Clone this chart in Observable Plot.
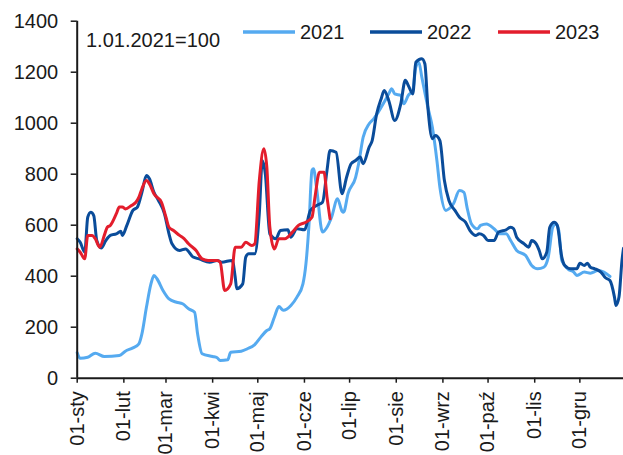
<!DOCTYPE html>
<html>
<head>
<meta charset="utf-8">
<script src="https://cdn.jsdelivr.net/npm/d3@7"></script>
<script src="https://cdn.jsdelivr.net/npm/@observablehq/plot@0.6"></script>
<style>
  html, body { margin: 0; padding: 0; background: #fff; }
  #chart svg { display: block; }
</style>
</head>
<body>
<div id="chart"></div>
<script>
// Month starts (day of year) and their Polish labels
const monthStarts = [0, 31, 59, 90, 120, 151, 181, 212, 243, 273, 304, 334];
const monthLabels = ["01-sty", "01-lut", "01-mar", "01-kwi", "01-maj", "01-cze",
                     "01-lip", "01-sie", "01-wrz", "01-paź", "01-lis", "01-gru"];
const yTicks = [0, 200, 400, 600, 800, 1000, 1200, 1400];

const seriesNames = ["2021", "2022", "2023"];
const seriesColors = ["#55aaf0", "#0a4c9a", "#e31d2c"];
const indexNote = "1.01.2021=100";

// 2021 (index, 1.01.2021 = 100)
const days2021 = [0, 2, 7, 12, 18, 28, 32, 37, 41, 43, 46, 49, 51, 53, 57, 61, 66, 70, 74, 78,
  80, 83, 90, 93, 95, 100, 102, 109, 113, 118, 122, 126, 128, 131, 134, 137, 142, 146, 150, 152,
  154, 156, 157, 159, 163, 166, 169, 173, 176, 177, 180, 185, 187, 190, 194, 197, 200, 204, 207, 209,
  211, 215, 217, 220, 223, 225, 227, 229, 233, 236, 239, 241, 245, 247, 250, 254, 257, 259, 262, 266,
  268, 272, 277, 281, 285, 288, 292, 298, 302, 306, 310, 313, 316, 318, 320, 322, 326, 330, 332, 337,
  341, 346, 350, 354];
const vals2021 = [100, 78, 82, 98, 85, 89, 106, 119, 135, 174, 278, 370, 403, 390, 344, 311, 298, 292, 272, 259,
  174, 96, 85, 80, 69, 72, 102, 106, 115, 132, 161, 187, 194, 239, 281, 266, 285, 318, 370, 449,
  600, 815, 821, 749, 573, 592, 631, 704, 655, 651, 725, 788, 841, 945, 998, 1017, 1043, 1083, 1115, 1135,
  1115, 1109, 1076, 1109, 1128, 1220, 1239, 1180, 1063, 984, 854, 749, 658, 664, 684, 736, 729, 671, 605, 586,
  599, 605, 586, 566, 566, 540, 501, 481, 442, 429, 435, 475, 592, 605, 579, 462, 429, 416, 403, 416,
  412, 422, 416, 399];

// 2022
const days2022 = [0, 2, 5, 7, 9, 11, 13, 16, 19, 22, 26, 29, 30, 33, 37, 40, 43, 46, 48, 51,
  54, 58, 61, 63, 68, 72, 77, 81, 88, 93, 96, 103, 105, 106, 110, 112, 114, 118, 121, 123,
  125, 128, 132, 135, 140, 142, 146, 151, 155, 159, 163, 166, 168, 172, 176, 179, 182, 185, 188, 190,
  194, 196, 199, 202, 204, 207, 211, 215, 218, 220, 223, 225, 229, 231, 233, 236, 238, 241, 244, 247,
  251, 254, 258, 261, 265, 267, 270, 273, 277, 280, 285, 288, 290, 292, 297, 300, 302, 305, 307, 309,
  312, 314, 317, 319, 322, 324, 328, 332, 334, 337, 339, 341, 344, 348, 351, 354, 357, 358, 360, 362,
  363];
const vals2022 = [547, 533, 494, 631, 651, 638, 540, 511, 540, 560, 566, 576, 560, 599, 658, 671, 729, 795, 782, 729,
  697, 645, 566, 527, 501, 507, 475, 468, 455, 462, 455, 462, 396, 351, 370, 475, 488, 488, 645, 854,
  801, 566, 547, 579, 582, 553, 586, 582, 658, 677, 690, 815, 893, 886, 723, 788, 841, 854, 867, 841,
  906, 932, 1037, 1096, 1128, 1089, 1011, 1076, 1168, 1148, 1115, 1239, 1253, 1233, 1063, 939, 952, 932, 775, 697,
  658, 631, 612, 579, 560, 566, 560, 540, 540, 573, 582, 592, 586, 553, 527, 514, 540, 527, 501, 468,
  494, 592, 612, 599, 475, 442, 429, 429, 451, 442, 451, 435, 429, 416, 394, 383, 318, 285, 318, 462,
  510];

// 2023
const days2023 = [0, 2, 5, 7, 10, 12, 15, 18, 20, 22, 26, 28, 30, 32, 36, 39, 41, 43, 46, 48,
  51, 56, 59, 61, 64, 68, 71, 74, 79, 83, 87, 90, 93, 95, 98, 102, 105, 109, 112, 116,
  118, 121, 124, 126, 128, 131, 134, 138, 143, 147, 152, 156, 158, 161, 164, 166, 168];
const vals2023 = [507, 494, 468, 560, 560, 547, 514, 560, 592, 599, 645, 671, 671, 664, 677, 690, 710, 743, 775, 762,
  723, 690, 631, 592, 579, 560, 547, 527, 501, 468, 462, 462, 462, 455, 344, 370, 514, 514, 533, 520,
  527, 775, 900, 828, 592, 507, 547, 547, 573, 599, 612, 631, 710, 808, 808, 710, 625];

const table = [];
[[days2021, vals2021], [days2022, vals2022], [days2023, vals2023]].forEach(([ds, vs], k) => {
  ds.forEach((d, i) => table.push({series: seriesNames[k], day: d, value: vs[i]}));
});

const ink = "#1a1a1a";
const font = "'Liberation Sans', Arial, sans-serif";

const chart = Plot.plot({
  width: 623,
  height: 455,
  marginLeft: 76.7,
  marginRight: 0,
  marginTop: 20.7,
  marginBottom: 77.3,
  style: {fontFamily: font, fontSize: "20px", color: ink, background: "#fff", overflow: "visible"},
  x: {domain: [0, 363], label: null},
  y: {domain: [0, 1400], label: null},
  color: {domain: seriesNames, range: seriesColors},
  marks: [
    Plot.axisY({ticks: yTicks, tickFormat: d => String(d), tickSize: 6, tickPadding: 13,
                stroke: ink, strokeWidth: 1.5, label: null}),
    Plot.axisX({ticks: monthStarts, tickFormat: d => monthLabels[monthStarts.indexOf(d)],
                tickRotate: -90, tickSize: 5, tickPadding: 8, stroke: ink, strokeWidth: 1.5, label: null}),
    Plot.line(table, {x: "day", y: "value", z: "series", stroke: "series",
                      strokeWidth: 3, curve: "monotone-x", strokeLinejoin: "round"}),
    Plot.ruleX([0], {stroke: ink, strokeWidth: 2}),
    Plot.ruleY([0], {stroke: ink, strokeWidth: 2})
  ]
});

// Legend and index note drawn in the top band of the plot
const svg = d3.select(chart);
svg.append("text")
  .attr("x", 86).attr("y", 46.5)
  .attr("text-anchor", "start")
  .attr("font-family", font).attr("font-size", 20).attr("fill", ink)
  .text(indexNote);
const legendX = [243, 370, 498];
seriesNames.forEach((name, i) => {
  const g = svg.append("g");
  g.append("line")
    .attr("x1", legendX[i]).attr("x2", legendX[i] + 52)
    .attr("y1", 32).attr("y2", 32)
    .attr("stroke", seriesColors[i]).attr("stroke-width", 3.5);
  g.append("text")
    .attr("x", legendX[i] + 57).attr("y", 39.3)
    .attr("text-anchor", "start")
    .attr("font-family", font).attr("font-size", 20).attr("fill", ink)
    .text(name);
});

document.getElementById("chart").append(chart);
</script>
</body>
</html>
